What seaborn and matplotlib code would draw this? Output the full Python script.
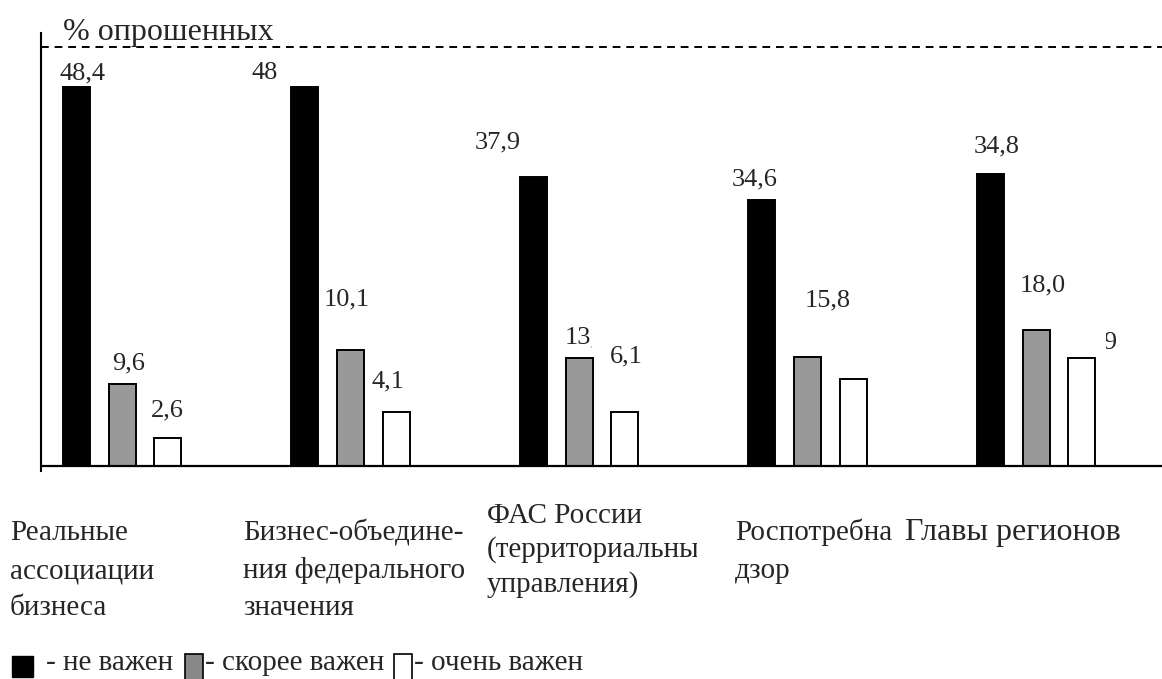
import pandas as pd
import matplotlib.pyplot as plt
import seaborn as sns
from matplotlib.patches import Rectangle
from matplotlib.transforms import Bbox

# Data (bar heights, labels as printed)
groups = ["Реальные ассоциации бизнеса", "Бизнес-объединения федерального значения",
          "ФАС России", "Роспотребнадзор", "Главы регионов"]
series = ["не важен", "скорее важен", "очень важен"]
not_important = [48.4, 48.4, 36.9, 33.9, 37.3]
rather_important = [10.4, 14.8, 13.8, 13.9, 17.3]
very_important = [3.5, 6.9, 6.9, 11.1, 13.8]
label_black = ["48,4", "48", "37,9", "34,6", "34,8"]
label_gray = ["9,6", "10,1", "13,7", "15,8", "18,0"]
label_white = ["2,6", "4,1", "6,1", "", "13,9"]

df = pd.DataFrame({
    "group": groups * 3,
    "series": [s for s in series for _ in groups],
    "value": not_important + rather_important + very_important,
})

W, H = 1162, 679
sns.set_style("white")
plt.rcParams["font.family"] = ["Liberation Serif", "DejaVu Serif"]

fig = plt.figure(figsize=(W / 100, H / 100), dpi=100)
ax = fig.add_axes([40.7 / W, 1 - 471 / H, 1 - 40.7 / W, (471 - 33) / H])

sns.barplot(data=df, x="group", y="value", hue="series", hue_order=series,
            palette=["black", "#999999", "white"], width=0.6, gap=0.41,
            edgecolor="black", linewidth=1.4, errorbar=None, legend=False, ax=ax)

ax.set_xlim(-0.356, 4.551)
ax.set_ylim(-0.68, 55.3)
ax.axhline(0, color="black", lw=1.6, zorder=5)
ax.axhline(53.55, color="black", lw=1.4, ls=(0, (4, 3)))
for s in ["top", "right", "bottom"]:
    ax.spines[s].set_visible(False)
ax.spines["left"].set_linewidth(1.5)
ax.spines["left"].set_color("black")
ax.set_xticks([])
ax.set_yticks([])
ax.set_xlabel("")
ax.set_ylabel("")

# value labels: offsets from bar top (pixels)
offs_black = [(6, 14), (-40, 14), (-36, 35), (-7, 21), (6, 27)]
offs_gray = [(7, 21), (-4, 50), (9, 20), (20, 56), (7, 45)]
offs_white = [(0, 28), (-8, 30), (2, 55), (0, 0), (13, 15)]
clips = {(1, 2): (0, 592), (2, 4): (1106, W)}

for si, (labels, offs) in enumerate(zip([label_black, label_gray, label_white],
                                         [offs_black, offs_gray, offs_white])):
    for gi, bar in enumerate(ax.containers[si]):
        if not labels[gi]:
            continue
        x = bar.get_x() + bar.get_width() / 2
        t = ax.annotate(labels[gi], (x, bar.get_height()),
                        xytext=(offs[gi][0] * 0.72, offs[gi][1] * 0.72),
                        textcoords="offset points", ha="center", va="center",
                        fontsize=19)
        if (si, gi) in clips:
            x0, x1 = clips[(si, gi)]
            t.set_clip_box(Bbox([[x0, 0], [x1, H]]))
            t.set_clip_on(True)


def ftext(x, y, s, **kw):
    return fig.text(x / W, 1 - y / H, s, va="baseline", **kw)


ftext(63, 40, "% опрошенных", fontsize=23)

# category labels
for xs, lines, ys, fs in [
    ([10, 10, 10], ["Реальные", "ассоциации", "бизнеса"], [540, 578, 615], 21),
    ([243, 243, 243], ["Бизнес-объедине-", "ния федерального", "значения"], [540, 578, 615], 21),
    ([487, 487, 487], ["ФАС России", "(территориальные", "управления)"], [523, 557, 592], 21),
    ([735, 735], ["Роспотребна", "дзор"], [540, 578], 21),
    ([905], ["Главы регионов"], [540], 23),
]:
    for x, line, y in zip(xs, lines, ys):
        t = ftext(x, y, line, fontsize=fs)
        if line.startswith("(терр"):
            t.set_clip_box(Bbox([[0, 0], [697, H]]))
            t.set_clip_on(True)

# legend
fig.patches.append(Rectangle((12 / W, 1 - 677 / H), 21 / W, 21 / H,
                             transform=fig.transFigure, facecolor="black",
                             edgecolor="black"))
fig.patches.append(Rectangle((185 / W, 1 - 690 / H), 18 / W, 36 / H,
                             transform=fig.transFigure, facecolor="#888888",
                             edgecolor="black", lw=1.2))
fig.patches.append(Rectangle((394 / W, 1 - 690 / H), 18 / W, 36 / H,
                             transform=fig.transFigure, facecolor="white",
                             edgecolor="black", lw=1.2))
ftext(46, 670, "- не важен", fontsize=21)
ftext(205, 670, "- скорее важен", fontsize=21)
ftext(414, 670, "- очень важен", fontsize=21)

fig.savefig("out.png", dpi=100)
